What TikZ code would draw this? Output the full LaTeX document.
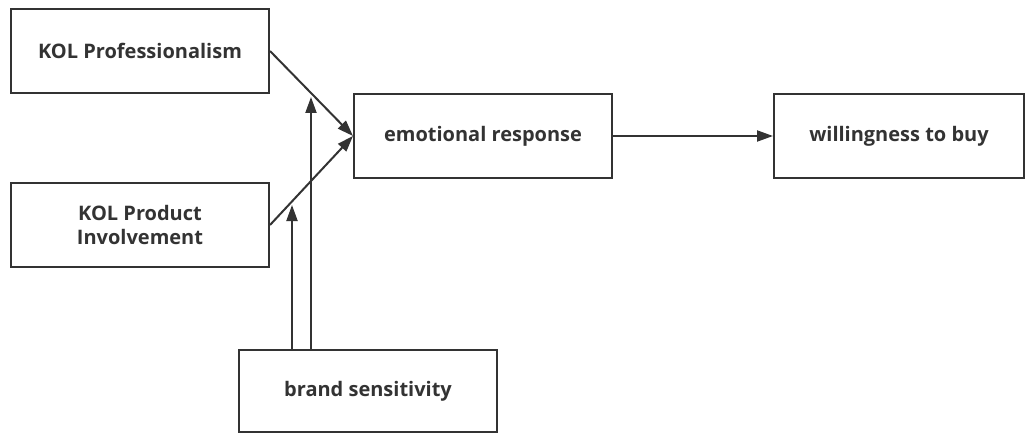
\documentclass[tikz,border=0pt]{standalone}
\usepackage{fontspec}
\setmainfont{Open Sans}
\usetikzlibrary{arrows.meta}
\begin{document}
\begin{tikzpicture}[x=1pt,y=-1pt,
  box/.style={draw=black!80,line width=2pt,minimum width=258pt,minimum height=84pt,inner sep=0pt,
    font=\fontsize{20}{24}\selectfont\bfseries,text=black!80,align=center,anchor=north west},
  conn/.style={draw=black!80,line width=2pt,-{Triangle[length=16pt,width=11pt]}}]
\useasboundingbox (0,0) rectangle (1025,433);
\node[box] (kp) at (10,8) {KOL Professionalism};
\node[box] (ki) at (10,182) {KOL Product\\Involvement};
\node[box] (er) at (353,93) {emotional response};
\node[box,minimum width=250pt] (wb) at (773,93) {willingness to buy};
\node[box,minimum height=82pt] (bs) at (238,349) {brand sensitivity};
\coordinate (t1) at (311,97);
\coordinate (t2) at (292,205);
\draw[conn] (kp.east) -- (er.west);
\draw[conn] (ki.east) -- (er.west);
\draw[conn] (er.east) -- (wb.west);
\draw[conn] (bs.north -| t1) -- (t1);
\draw[conn] (bs.north -| t2) -- (t2);
\end{tikzpicture}
\end{document}
